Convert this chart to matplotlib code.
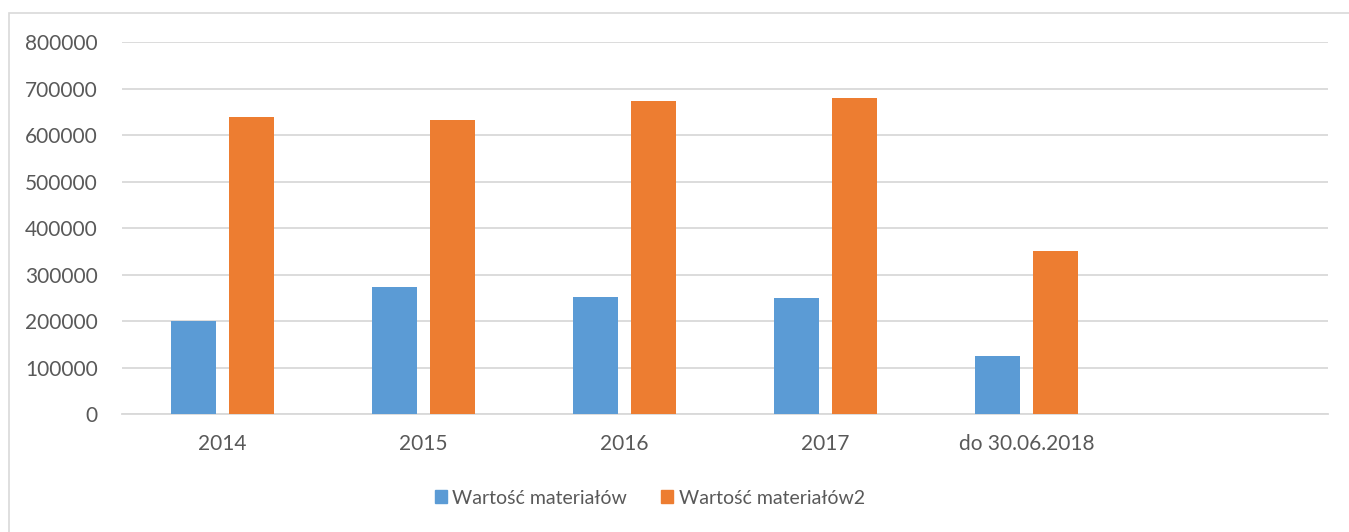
import matplotlib
matplotlib.use("Agg")
import matplotlib.pyplot as plt
import numpy as np
from matplotlib.patches import Rectangle, Patch

# ── data ─────────────────────────────────────────────────────────────────────
categories = ["2014", "2015", "2016", "2017", "do 30.06.2018", ""]
series1 = [201000, 274000, 251000, 250000, 125000, np.nan]
series2 = [638000, 633000, 674000, 680000, 350000, np.nan]
labels = ["Wartość materiałów", "Wartość materiałów2"]
yticks = [0, 100000, 200000, 300000, 400000, 500000, 600000, 700000, 800000]

BLUE, ORANGE = "#5B9BD5", "#ED7D31"
GRID = "#D9D9D9"
TXT = "#595959"

plt.rcParams["font.family"] = ["Lato", "DejaVu Sans"]

W, H = 1349, 532
fig = plt.figure(figsize=(W / 100, H / 100), dpi=100)
fig.patch.set_facecolor("white")

# chart frame
fig.add_artist(Rectangle((9 / W, -0.1), 1.2, 1 - 13 / H + 0.1,
                         transform=fig.transFigure, fill=False,
                         edgecolor=GRID, lw=1.2))

ax = fig.add_axes([122 / W, 1 - 414.3 / H, (1328 - 122) / W, (414.3 - 42) / H])
x = np.arange(len(categories))
bw = 0.224
ax.bar(x - 0.142, series1, bw, color=BLUE, zorder=3)
ax.bar(x + 0.142, series2, bw, color=ORANGE, zorder=3)

ax.set_xlim(-0.5, len(categories) - 0.5)
ax.set_ylim(0, 800000)
ax.set_yticks(yticks)
ax.set_yticklabels([str(v) for v in yticks])
ax.set_xticks(x)
ax.set_xticklabels(categories)
ax.yaxis.grid(True, color=GRID, lw=1.3, zorder=0)
for side in ["left", "right", "top"]:
    ax.spines[side].set_visible(False)
ax.spines["bottom"].set_color(GRID)
ax.spines["bottom"].set_linewidth(1.3)
ax.tick_params(axis="both", length=0, labelsize=15, colors=TXT)
ax.tick_params(axis="y", pad=17.5)
ax.tick_params(axis="x", pad=14)

handles = [Patch(color=BLUE), Patch(color=ORANGE)]
fig.legend(handles, labels, loc="center", ncol=2,
           bbox_to_anchor=(650 / W, 1 - 498 / H), frameon=False,
           fontsize=14, labelcolor=TXT, handlelength=0.62, handleheight=0.65,
           handletextpad=0.3, columnspacing=1.75)

fig.savefig("out.png", dpi=100, facecolor=fig.get_facecolor())
